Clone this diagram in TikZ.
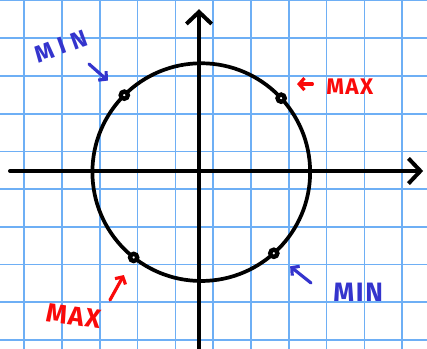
\documentclass[tikz,border=0pt]{standalone}
\usepackage{fontspec}
\usepackage{tikz}
\usetikzlibrary{arrows.meta}
\newfontfamily\handfont[LetterSpace=6]{Fira Sans}
\newfontfamily\handwide[LetterSpace=28]{Fira Sans}
\definecolor{gridblue}{RGB}{110,175,245}
\definecolor{penblue}{RGB}{52,52,205}
\definecolor{penred}{RGB}{250,10,10}

\begin{document}
\begin{tikzpicture}[
    gridline/.style={gridblue, line width=1.3pt},
    axis/.style={line width=3pt, line cap=round, -{Straight Barb[length=9pt,width=19pt]}},
    curve/.style={line width=2.8pt},
    pt/.style={draw, circle, line width=3.3pt, minimum size=0.19cm, inner sep=0pt, fill=white},
    pointer/.style={line width=2.4pt, line cap=round, -{Straight Barb[length=4pt,width=9pt]}},
    lab/.style={font=\handfont\bfseries\fontsize{20}{20}\selectfont, inner sep=0pt}]
    % paper
    \useasboundingbox[fill=white] (-5.265,-4.709) rectangle (6.032,4.524);

    % grid
    \foreach \x in {0,...,10} {
        \draw[gridline] ({-4.624+\x},-4.709) -- ({-4.624+\x},4.524);
    }
    \foreach \y in {0,...,9} {
        \draw[gridline] (-5.265,{4.511-\y*0.998}) -- (6.032,{4.511-\y*0.998});
    }

    % axes
    \draw[axis] (-5.0,0) -- (5.93,0);
    \draw[axis] (0,-4.9) -- (0,4.28);

    % circle
    \coordinate (c) at (0.06,-0.03);
    \draw[curve] (c) circle (2.88);

    % points on the circle
    \node[pt] (p1) at ([shift={(c)}]135:2.88) {};
    \node[pt] (p2) at ([shift={(c)}]42.8:2.88) {};
    \node[pt] (p3) at ([shift={(c)}]231.6:2.88) {};
    \node[pt] (p4) at ([shift={(c)}]311.8:2.88) {};

    % labels
    \node[lab, penblue, rotate=20, font=\handwide\bfseries\fontsize{18}{18}\selectfont] (min1) at (-3.65,3.3) {MIN};
    \node[lab, penred, font=\handfont\bfseries\fontsize{17}{17}\selectfont] (max1) at (3.99,2.22) {MAX};
    \node[lab, penred, rotate=-8] (max2) at (-3.31,-3.84) {MAX};
    \node[lab, penblue] (min2) at (4.21,-3.2) {MIN};

    % pointers
    \coordinate (t1) at (-2.91,2.83);
    \coordinate (t2) at (3.0,2.3);
    \coordinate (t3) at (-2.355,-3.413);
    \coordinate (t4) at (2.963,-2.963);
    \draw[penblue, pointer, shorten >=0.43cm] (t1) -- (p1);
    \draw[penred, pointer, shorten >=0.42cm] (t2) -- (t2 -| p2);
    \draw[penred, pointer, shorten >=0.38cm] (t3) -- (p3);
    \draw[penblue, pointer, shorten >=0.4cm] (t4) -- (p4);
\end{tikzpicture}
\end{document}
